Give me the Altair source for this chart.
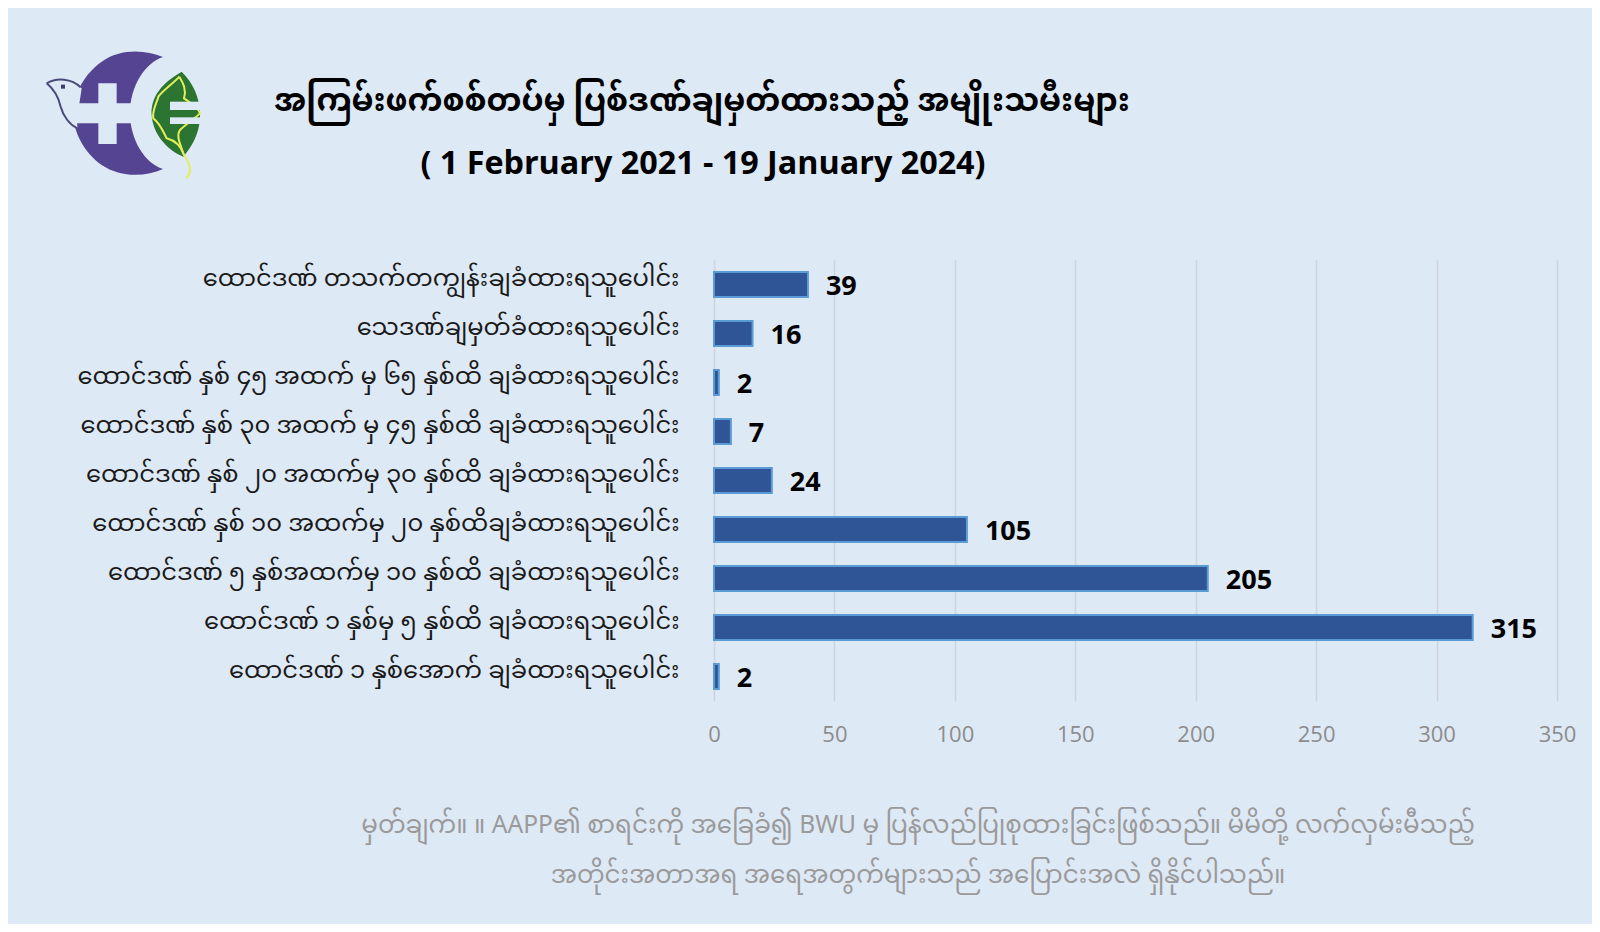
import re
import altair as alt
import pandas as pd

categories = [
    "ထောင်ဒဏ် တသက်တကျွန်းချခံထားရသူပေါင်း",
    "သေဒဏ်ချမှတ်ခံထားရသူပေါင်း",
    "ထောင်ဒဏ် နှစ် ၄၅ အထက် မှ ၆၅ နှစ်ထိ ချခံထားရသူပေါင်း",
    "ထောင်ဒဏ် နှစ် ၃၀ အထက် မှ ၄၅ နှစ်ထိ ချခံထားရသူပေါင်း",
    "ထောင်ဒဏ် နှစ် ၂၀ အထက်မှ ၃၀ နှစ်ထိ ချခံထားရသူပေါင်း",
    "ထောင်ဒဏ် နှစ် ၁၀ အထက်မှ ၂၀ နှစ်ထိချခံထားရသူပေါင်း",
    "ထောင်ဒဏ် ၅ နှစ်အထက်မှ ၁၀ နှစ်ထိ ချခံထားရသူပေါင်း",
    "ထောင်ဒဏ် ၁ နှစ်မှ ၅ နှစ်ထိ ချခံထားရသူပေါင်း",
    "ထောင်ဒဏ် ၁ နှစ်အောက် ချခံထားရသူပေါင်း",
]
values = [39, 16, 2, 7, 24, 105, 205, 315, 2]
x_ticks = [0, 50, 100, 150, 200, 250, 300, 350]

title_my = "အကြမ်းဖက်စစ်တပ်မှ ပြစ်ဒဏ်ချမှတ်ထားသည့် အမျိုးသမီးများ"
title_en = "( 1 February 2021 - 19 January 2024)"
note_1 = "မှတ်ချက်။   ။ AAPP၏ စာရင်းကို အခြေခံ၍ BWU မှ ပြန်လည်ပြုစုထားခြင်းဖြစ်သည်။ မိမိတို့ လက်လှမ်းမီသည့်"
note_2 = "အတိုင်းအတာအရ အရေအတွက်များသည် အပြောင်းအလဲ ရှိနိုင်ပါသည်။"

BG = "#DEE9F6"
MY_FONT = "Noto Sans Myanmar, Padauk, Myanmar Text, Noto Sans, sans-serif"
LATIN = "Open Sans"

PLOT_L, PLOT_T, PLOT_W, PLOT_H = 706, 252, 843, 441
FULL_W, FULL_H = 1584, 916

df = pd.DataFrame({"cat": categories, "val": values})

y_enc = alt.Y("cat:N", sort=categories, title=None,
              scale=alt.Scale(paddingInner=0.49, paddingOuter=0.245),
              axis=alt.Axis(domain=False, ticks=False, labelFontSize=24.2, labelFont=MY_FONT,
                            labelColor="#1a1a1a", labelPadding=35, labelLimit=700, labelOffset=-6))
x_enc = alt.X("val:Q", title=None, scale=alt.Scale(domain=[0, 350], nice=False),
              axis=alt.Axis(values=x_ticks, domain=False, ticks=False, labelFontSize=22,
                            labelFont=LATIN, labelColor="#8C8C8C", labelPadding=23,
                            gridColor="#CDD4DE", gridWidth=1.5, labelFlush=False))

bars = alt.Chart(df).mark_bar(color="#2F5597", stroke="#5B9BD5", strokeWidth=2).encode(x=x_enc, y=y_enc)
labels = alt.Chart(df).mark_text(align="left", baseline="middle", dx=18, dy=2, font=LATIN,
                                 fontSize=27, fontWeight="bold", color="#000000").encode(
    x="val:Q", y=alt.Y("cat:N", sort=categories), text="val:Q")


def page_text(text, px, py, size, color, font, weight="normal"):
    return alt.Chart(pd.DataFrame({"t": [text]})).mark_text(
        align="center", baseline="middle", font=font, fontSize=size, fontWeight=weight, color=color
    ).encode(x=alt.value(px - 8 - PLOT_L), y=alt.value(py - 8 - PLOT_T), text="t:N")


texts = [
    page_text(title_my, 702, 102, 31.5, "#000000", MY_FONT, "bold"),
    page_text(title_en, 703, 164, 32.3, "#000000", LATIN, "bold"),
    page_text(note_1, 918, 826, 24.6, "#9A9A9A", MY_FONT),
    page_text(note_2, 918, 876, 24.6, "#9A9A9A", MY_FONT),
]

# Logo: drawn as vector symbols. Path numbers are in a 540x420 logo drawing space.
LOGO_CX, LOGO_CY, LOGO_U = 285, 219, 240


def norm(path):
    out, is_x = [], True
    for tok in re.findall(r"[A-Za-z]|-?\d+\.?\d*", path):
        if tok.isalpha():
            out.append(tok)
            is_x = True
        else:
            c = LOGO_CX if is_x else LOGO_CY
            out.append(f"{(float(tok) - c) / LOGO_U:.4f}")
            is_x = not is_x
    return " ".join(out)


logo_shapes = [
    # crescent
    ("filled", "#544491",
     "M 399 51 C 345 28 270 25 215 65 C 165 100 130 160 130 219 C 130 280 165 340 215 375 "
     "C 270 412 345 412 399 387 C 345 370 300 300 300 219 C 300 140 345 68 399 51 Z"),
    # plus
    ("filled", BG, "M 205 130 L 260 130 L 260 190 L 322 190 L 322 250 L 260 250 L 260 312 L 205 312 L 205 250 L 130 250 L 130 190 L 205 190 Z"),
    # dove body
    ("filled", BG, "M 50 130 C 80 112 125 115 155 145 C 150 185 140 225 142 265 C 100 245 85 190 78 165 C 70 150 60 140 50 130 Z"),
    # dove outline
    ("line", "#4A4A7A", "M 50 130 C 80 112 125 115 152 142"),
    ("line", "#4A4A7A", "M 50 130 C 75 150 85 170 92 200 C 100 230 120 255 142 265"),
    ("filled", "#3F3A78", "M 93 134 L 105 134 L 105 146 L 93 146 Z"),
    # leaf
    ("filled", "#2B7431", "M 455 95 C 395 130 362 170 365 225 C 368 280 410 330 460 350 C 495 310 512 265 510 220 C 508 170 490 130 455 95 Z"),
    # map outline
    ("line", "#E2EE5A", "M 448 110 C 430 130 400 150 385 170 C 380 190 365 215 370 235 C 390 250 400 275 410 295 C 430 300 450 310 462 345 C 480 370 490 395 468 415"),
    ("line", "#E2EE5A", "M 448 110 C 460 130 470 150 462 175 C 490 195 505 205 510 220 C 495 235 470 250 450 270 C 440 285 445 300 462 345"),
    # E
    ("filled", BG, "M 420 185 L 510 185 L 510 210 L 420 210 Z"),
    ("filled", BG, "M 420 232 L 510 232 L 510 252 L 420 252 Z"),
]
LOGO_PX, LOGO_PY = 30 + LOGO_CX / 3, 40 + LOGO_CY / 3
LOGO_SIZE = (2 * LOGO_U / 3) ** 2
logo = []
for kind, colour, p in logo_shapes:
    kw = dict(fill=colour, filled=True, opacity=1) if kind == "filled" else dict(
        filled=False, stroke=colour, strokeWidth=2, opacity=1)
    logo.append(alt.Chart(pd.DataFrame({"a": [1]})).mark_point(shape=norm(p), size=LOGO_SIZE, **kw).encode(
        x=alt.value(LOGO_PX - 8 - PLOT_L), y=alt.value(LOGO_PY - 8 - PLOT_T)))

chart = alt.layer(bars, labels, *texts, *logo).properties(
    width=PLOT_W, height=PLOT_H, background=BG,
    autosize=alt.AutoSizeParams(type="none"),
    padding={"left": PLOT_L, "top": PLOT_T, "right": FULL_W - PLOT_L - PLOT_W,
             "bottom": FULL_H - PLOT_T - PLOT_H},
).configure_view(stroke=None)

chart.save("out.html", embed_options={"renderer": "svg", "actions": False})
